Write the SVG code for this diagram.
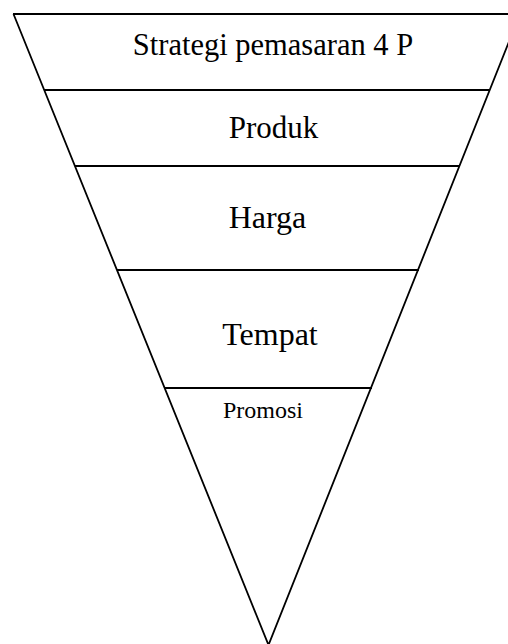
<svg xmlns="http://www.w3.org/2000/svg" width="508" height="644" viewBox="0 0 508 644">
<style>
.ln{stroke:#000;stroke-width:1.8;fill:none}
.t{font-family:"Liberation Serif","Times New Roman",serif;fill:#000;text-anchor:middle}
</style>
<rect width="508" height="644" fill="#fff"/>
<g id="connectors">
<path class="ln" d="M13.5,14 L268.5,645 L520,14"/>
<line class="ln" x1="13" y1="14" x2="508" y2="14"/>
<line class="ln" x1="44" y1="90" x2="489" y2="90"/>
<line class="ln" x1="75" y1="166" x2="459" y2="166"/>
<line class="ln" x1="117" y1="270" x2="419" y2="270"/>
<line class="ln" x1="165" y1="388" x2="372" y2="388"/>
</g>
<g id="n1"><text class="t" x="273" y="55" font-size="30.5">Strategi pemasaran 4 P</text></g>
<g id="n2"><text class="t" x="273.5" y="138" font-size="31">Produk</text></g>
<g id="n3"><text class="t" x="267.5" y="228" font-size="32">Harga</text></g>
<g id="n4"><text class="t" x="270" y="345" font-size="32">Tempat</text></g>
<g id="n5"><text class="t" x="263" y="418" font-size="24">Promosi</text></g>
</svg>
